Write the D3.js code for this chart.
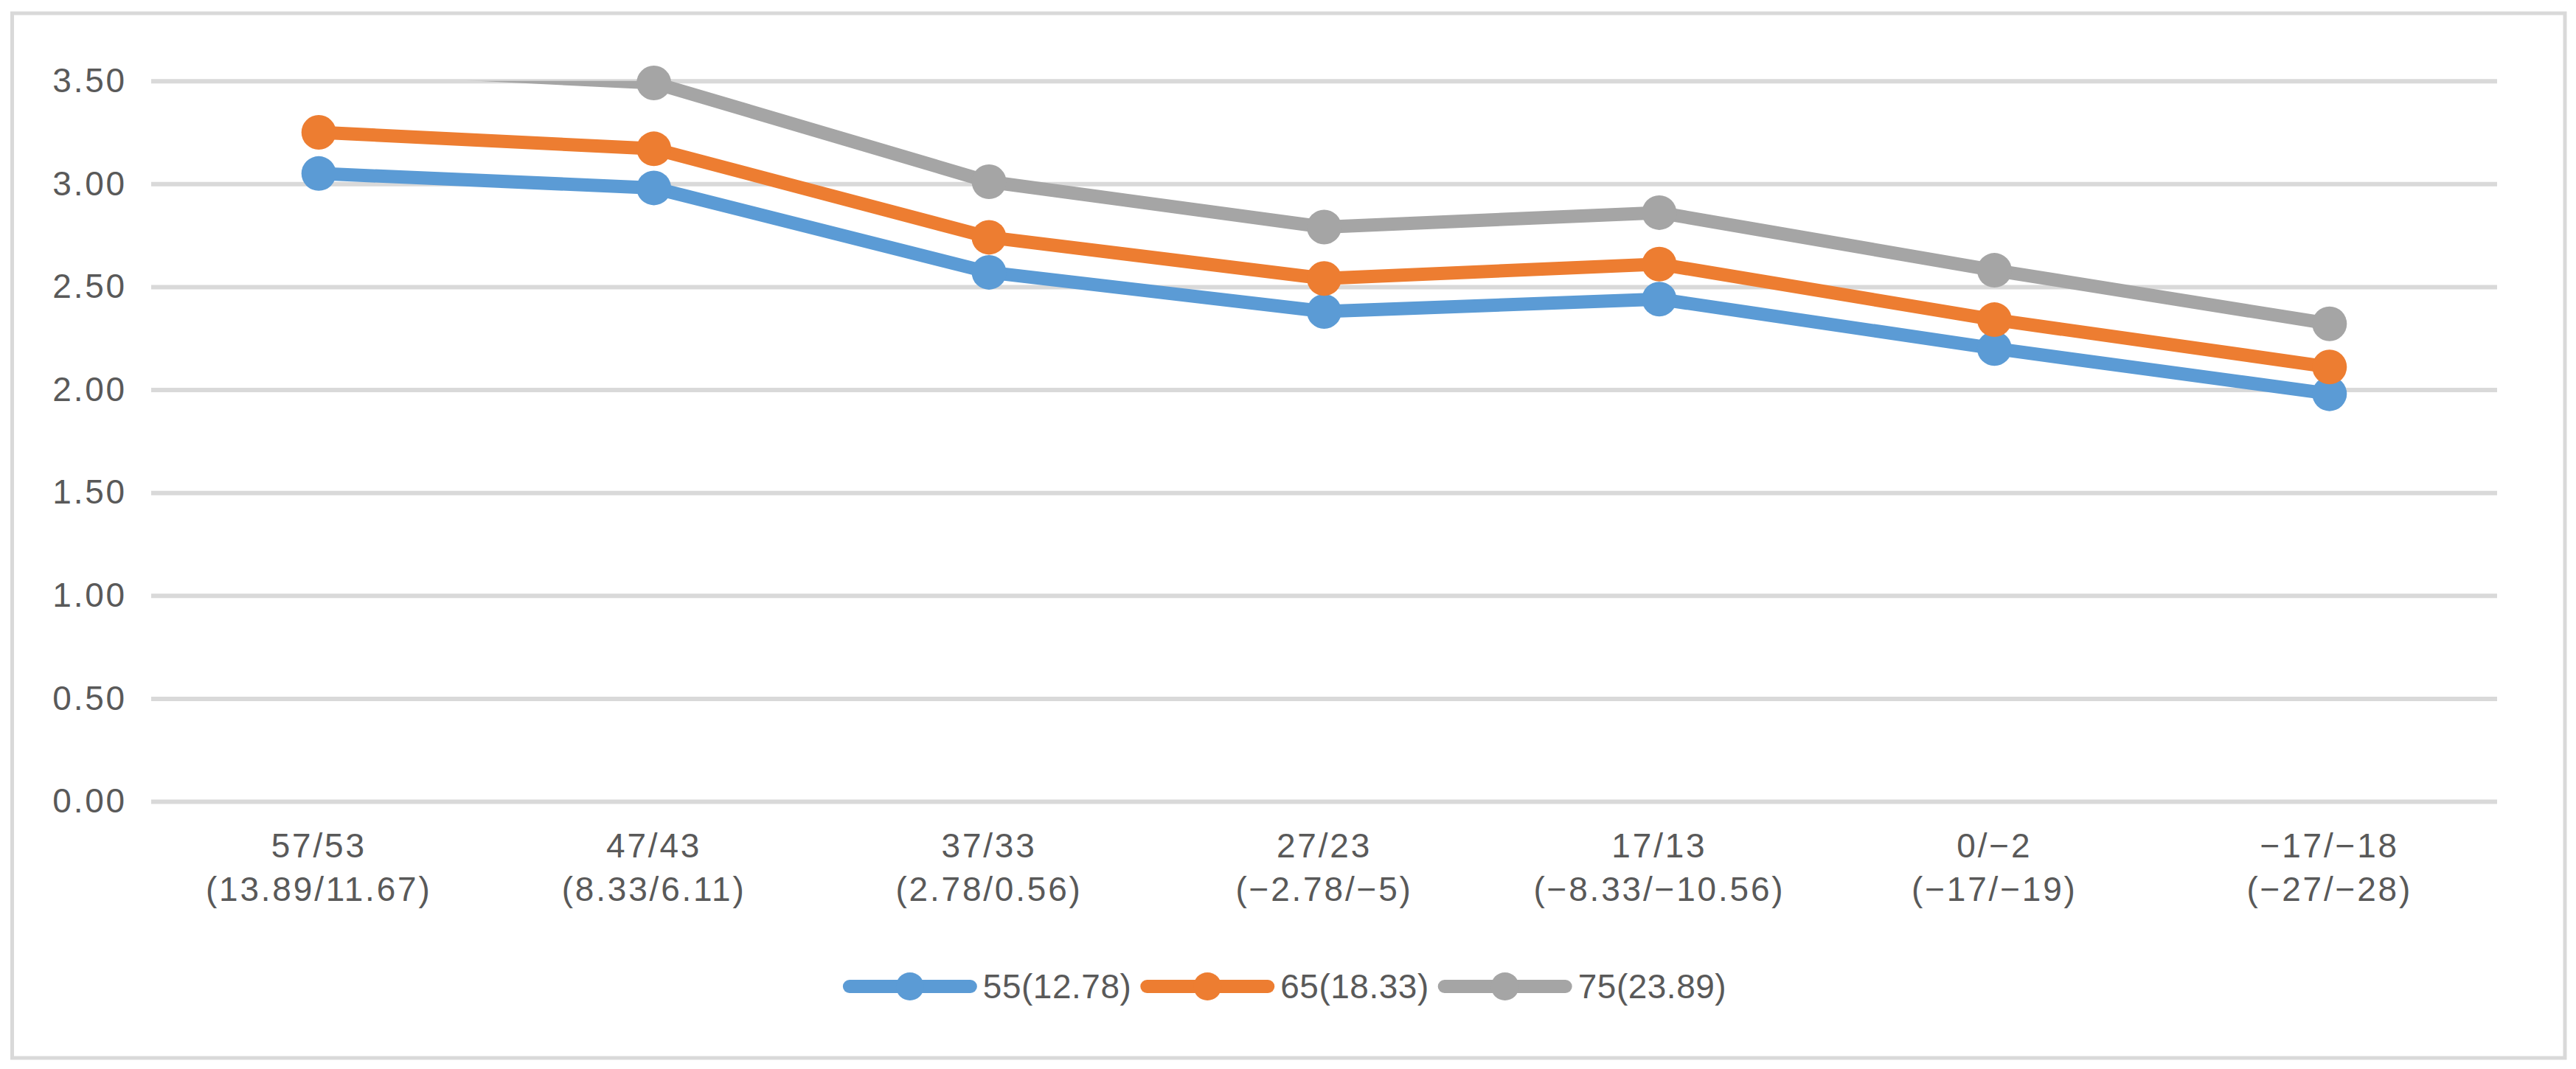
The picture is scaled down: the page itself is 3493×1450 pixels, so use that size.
<!DOCTYPE html>
<html>
<head>
<meta charset="utf-8">
<script src="https://cdn.jsdelivr.net/npm/d3@7"></script>
<style>
  html, body { margin: 0; padding: 0; background: #fff; }
  text { font-family: "Liberation Sans", Arial, sans-serif; fill: #595959; }
</style>
</head>
<body>
<div id="chart"></div>
<script>
// categories (two-line labels)
const categories = ["57/53", "47/43", "37/33", "27/23", "17/13", "0/−2", "−17/−18"];
const subLabels = ["(13.89/11.67)", "(8.33/6.11)", "(2.78/0.56)", "(−2.78/−5)", "(−8.33/−10.56)", "(−17/−19)", "(−27/−28)"];

// series
const seriesNames = ["55(12.78)", "65(18.33)", "75(23.89)"];
const seriesColors = ["#5b9bd5", "#ed7d31", "#a5a5a5"];
const blueValues = [3.05, 2.98, 2.57, 2.38, 2.44, 2.20, 1.98];
const orangeValues = [3.25, 3.17, 2.74, 2.54, 2.61, 2.34, 2.11];
const grayValues = [3.57, 3.49, 3.01, 2.79, 2.86, 2.58, 2.32];
const seriesValues = [blueValues, orangeValues, grayValues];

// y axis ticks
const yTicks = [0, 0.5, 1, 1.5, 2, 2.5, 3, 3.5];

const W = 3493, H = 1450;
const plotLeft = 205, plotRight = 3386, plotTop = 109.7, plotBottom = 1087;

const svg = d3.select("#chart")
    .append("svg")
    .attr("width", W)
    .attr("height", H);

svg.append("rect")
    .attr("width", W)
    .attr("height", H)
    .attr("fill", "#fff");

// outer chart border
svg.append("rect")
    .attr("x", 16.5)
    .attr("y", 18)
    .attr("width", 3461.5)
    .attr("height", 1417)
    .attr("fill", "none")
    .attr("stroke", "#d9d9d9")
    .attr("stroke-width", 5);

const x = d3.scaleBand().domain(categories).range([plotLeft, plotRight]).padding(0);
const y = d3.scaleLinear().domain([0, 3.5]).range([plotBottom, plotTop]);
const cx = c => x(c) + x.bandwidth() / 2;

// gridlines + y labels
const yAxis = svg.append("g")
    .attr("transform", `translate(${plotLeft},0)`)
    .call(d3.axisLeft(y)
        .tickValues(yTicks)
        .tickFormat(d3.format(".2f"))
        .tickSize(-(plotRight - plotLeft))
        .tickPadding(33));
yAxis.select(".domain").remove();
yAxis.selectAll(".tick line")
    .attr("stroke", "#d9d9d9")
    .attr("stroke-width", 6);
yAxis.selectAll(".tick text")
    .attr("font-size", 46)
    .attr("letter-spacing", 2.8)
    .attr("font-family", null)
    .attr("fill", "#595959");

// x labels
const xAxis = svg.append("g")
    .attr("transform", `translate(0,${plotBottom})`)
    .call(d3.axisBottom(x).tickSize(0).tickFormat(""));
xAxis.select(".domain").remove();
xAxis.selectAll(".tick text").each(function (d, i) {
    const t = d3.select(this)
        .attr("y", 0)
        .attr("dy", null)
        .attr("font-size", 46)
        .attr("letter-spacing", 2.8)
        .attr("font-family", null)
        .attr("fill", "#595959");
    t.append("tspan").attr("x", 0).attr("y", 76).text(d);
    t.append("tspan").attr("x", 0).attr("y", 135).text(subLabels[i]);
});

// clip lines at plot area
svg.append("clipPath")
    .attr("id", "plotClip")
    .append("rect")
    .attr("x", 0)
    .attr("y", plotTop)
    .attr("width", W)
    .attr("height", H - plotTop);

const line = d3.line()
    .x((d, i) => cx(categories[i]))
    .y(d => y(d));

seriesValues.forEach((vals, s) => {
    const g = svg.append("g");
    g.append("path")
        .datum(vals)
        .attr("d", line)
        .attr("fill", "none")
        .attr("stroke", seriesColors[s])
        .attr("stroke-width", 18)
        .attr("stroke-linecap", "round")
        .attr("stroke-linejoin", "round")
        .attr("clip-path", "url(#plotClip)");
    g.selectAll("circle")
        .data(vals.map((v, i) => ({ v, i })).filter(d => d.v <= 3.5))
        .enter()
        .append("circle")
        .attr("cx", d => cx(categories[d.i]))
        .attr("cy", d => y(d.v))
        .attr("r", 23.5)
        .attr("fill", seriesColors[s]);
});

// legend
const legendY = 1338;
const legend = svg.append("g");
let lx = 0;
seriesNames.forEach((name, s) => {
    const item = legend.append("g").attr("transform", `translate(${lx},0)`);
    item.append("line")
        .attr("x1", 9).attr("x2", 173)
        .attr("y1", legendY).attr("y2", legendY)
        .attr("stroke", seriesColors[s])
        .attr("stroke-width", 18)
        .attr("stroke-linecap", "round");
    item.append("circle")
        .attr("cx", 91).attr("cy", legendY)
        .attr("r", 19)
        .attr("fill", seriesColors[s]);
    const t = item.append("text")
        .attr("x", 190)
        .attr("y", legendY)
        .attr("dy", "0.35em")
        .attr("font-size", 46)
        .attr("letter-spacing", 0.5)
        .text(name);
    lx += 190 + t.node().getComputedTextLength() + 12;
});
const legendW = lx - 12;
legend.attr("transform", `translate(${1742 - legendW / 2},0)`);
</script>
</body>
</html>
